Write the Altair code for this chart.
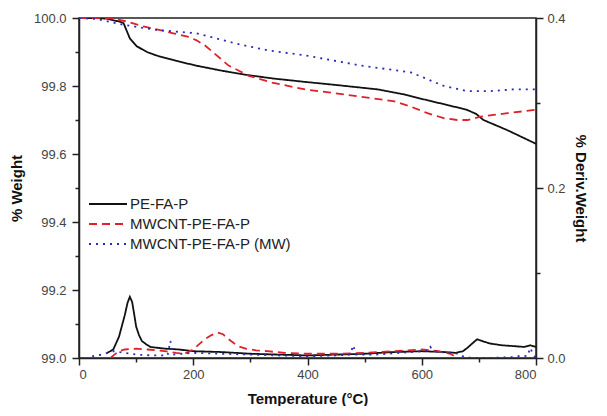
import altair as alt
import pandas as pd

SERIES = ["PE-FA-P", "MWCNT-PE-FA-P", "MWCNT-PE-FA-P (MW)"]
COLORS = ["#111111", "#e0202a", "#2a2ab8"]
DASHES = [[1, 0], [8, 5], [2, 5]]

# Weight curves (% Weight)
pe_t = [0, 30, 49, 60, 70, 78, 89, 101, 119, 135, 170, 205, 250, 292, 340, 396, 450, 523, 570, 610, 650, 679, 695, 708, 750, 800]
pe_w = [100.0, 100.0, 99.998, 99.993, 99.99, 99.985, 99.94, 99.917, 99.90, 99.89, 99.874, 99.86, 99.845, 99.833, 99.822, 99.812, 99.803, 99.79, 99.775, 99.758, 99.742, 99.73, 99.718, 99.70, 99.67, 99.63]

mw_t = [0, 40, 60, 83, 113, 140, 165, 190, 205, 220, 234, 248, 262, 280, 297, 338, 396, 465, 552, 580, 610, 640, 662, 680, 703, 750, 800]
mw_w = [100.0, 100.0, 99.998, 99.99, 99.975, 99.965, 99.955, 99.945, 99.935, 99.92, 99.90, 99.88, 99.86, 99.845, 99.83, 99.81, 99.79, 99.775, 99.755, 99.74, 99.72, 99.705, 99.70, 99.70, 99.71, 99.72, 99.73]

mwm_t = [0, 31, 78, 135, 205, 274, 330, 396, 494, 581, 610, 639, 679, 720, 760, 800]
mwm_w = [100.0, 99.997, 99.98, 99.965, 99.955, 99.925, 99.905, 99.89, 99.86, 99.84, 99.82, 99.80, 99.785, 99.785, 99.79, 99.79]

# Derivative curves (% Deriv.Weight)
pe_dt = [49, 55, 60, 70, 80, 85, 89, 93, 97, 100, 105, 110, 118, 125, 150, 175, 200, 250, 300, 350, 400, 450, 500, 550, 600, 640, 660, 672, 680, 690, 697, 710, 720, 740, 760, 780, 790, 800]
pe_d = [0.006, 0.008, 0.01, 0.025, 0.05, 0.065, 0.072, 0.066, 0.05, 0.037, 0.027, 0.02, 0.016, 0.013, 0.011, 0.01, 0.008, 0.007, 0.005, 0.004, 0.003, 0.004, 0.005, 0.007, 0.008, 0.007, 0.006, 0.008, 0.012, 0.018, 0.022, 0.019, 0.017, 0.015, 0.014, 0.013, 0.015, 0.013]

mw_dt = [55, 62, 70, 80, 100, 120, 150, 170, 185, 200, 210, 220, 232, 243, 252, 262, 272, 282, 292, 310, 330, 360, 400, 450, 500, 550, 600, 630, 650, 660]
mw_d = [0.0, 0.004, 0.008, 0.01, 0.011, 0.01, 0.008, 0.006, 0.005, 0.01, 0.016, 0.022, 0.027, 0.03, 0.028, 0.022, 0.017, 0.013, 0.011, 0.009, 0.008, 0.006, 0.005, 0.005, 0.006, 0.008, 0.01, 0.008, 0.005, 0.001]

mwm_dt = [23, 40, 50, 60, 80, 100, 130, 155, 160, 162, 165, 180, 200, 250, 300, 350, 400, 450, 475, 480, 485, 520, 560, 600, 612, 615, 620, 650, 665, 675, 690, 720, 760, 775, 785, 790, 795, 800]
mwm_d = [0.002, 0.004, 0.006, 0.008, 0.006, 0.004, 0.003, 0.003, 0.02, 0.012, 0.004, 0.005, 0.006, 0.005, 0.004, 0.003, 0.002, 0.003, 0.004, 0.015, 0.004, 0.004, 0.006, 0.008, 0.009, 0.013, 0.008, 0.006, 0.005, 0.001, 0.0, 0.0, 0.001, 0.003, 0.002, 0.012, 0.004, 0.0]

def frame(name, t, v, col):
    return pd.DataFrame({"T": t, col: v, "series": name})

wdf = pd.concat([frame(SERIES[0], pe_t, pe_w, "w"), frame(SERIES[1], mw_t, mw_w, "w"), frame(SERIES[2], mwm_t, mwm_w, "w")])
ddf = pd.concat([frame(SERIES[0], pe_dt, pe_d, "d"), frame(SERIES[1], mw_dt, mw_d, "d"), frame(SERIES[2], mwm_dt, mwm_d, "d")])
ldf = pd.DataFrame({"series": SERIES})

font = "Liberation Sans"
xaxis = alt.Axis(
    title="Temperature (°C)", values=list(range(0, 801, 100)),
    labelExpr="datum.value % 200 == 0 ? datum.label : ''",
    tickSize={"expr": "datum.value % 200 == 0 ? 7 : 4"},
    grid=False, titleFontWeight="bold", titleFontSize=15, labelFontSize=13,
    labelPadding=3, titlePadding=10,
)
x = alt.X("T:Q", scale=alt.Scale(domain=[0, 800], nice=False), axis=xaxis)

color = alt.Color("series:N", scale=alt.Scale(domain=SERIES, range=COLORS), legend=None)
dash = alt.StrokeDash("series:N", scale=alt.Scale(domain=SERIES, range=DASHES), legend=None)

wline = alt.Chart(wdf).mark_line(strokeWidth=1.8, clip=True).encode(
    x=x,
    y=alt.Y("w:Q", scale=alt.Scale(domain=[99.0, 100.0], nice=False),
            axis=alt.Axis(title="% Weight", values=[round(99 + i * 0.1, 1) for i in range(11)],
                          labelExpr="round(datum.value*10) % 2 == 0 ? format(datum.value, '.1f') : ''",
                          tickSize={"expr": "round(datum.value*10) % 2 == 0 ? 7 : 4"},
                          grid=False, titleFontWeight="bold", titleFontSize=15, labelFontSize=13,
                          labelPadding=6, titlePadding=9)),
    color=color, strokeDash=dash, order="T:Q",
)

dline = alt.Chart(ddf).mark_line(strokeWidth=1.8, clip=True).encode(
    x=x,
    y=alt.Y("d:Q", scale=alt.Scale(domain=[0.0, 0.4], nice=False),
            axis=alt.Axis(title="% Deriv.Weight", orient="right", values=[0.0, 0.1, 0.2, 0.3, 0.4],
                          labelExpr="round(datum.value*10) % 2 == 0 ? format(datum.value, '.1f') : ''",
                          tickSize={"expr": "round(datum.value*10) % 2 == 0 ? 7 : 4"},
                          grid=False, titleFontWeight="bold", titleFontSize=15, labelFontSize=13,
                          labelPadding=4, titlePadding=7)),
    color=color, strokeDash=dash, order="T:Q",
)

# legend drawn as rule + text rows
ly = alt.Y("series:N", scale=alt.Scale(type="point", domain=SERIES, range=[186, 226], padding=0), axis=None)
lrule = alt.Chart(ldf).mark_rule(strokeWidth=1.8).encode(
    x=alt.value(10), x2=alt.value(48), y=ly, color=color, strokeDash=dash,
)
ltext = alt.Chart(ldf).mark_text(align="left", baseline="middle", fontSize=15, font=font, color="#222").encode(
    x=alt.value(51), y=ly, text="series:N",
)

chart = alt.layer(wline, dline, lrule, ltext).resolve_scale(y="independent").properties(
    width=457, height=340,
    padding={"left": 1, "top": 4, "right": 6, "bottom": 0},
).configure_view(stroke="#222", strokeWidth=1.5).configure_axis(
    domainColor="#222", domainWidth=1.5, tickColor="#222", tickWidth=1.5,
    labelColor="#444", titleColor="#111", labelFont=font, titleFont=font,
)

chart.save("out.html", embed_options={"renderer": "svg", "actions": False})
